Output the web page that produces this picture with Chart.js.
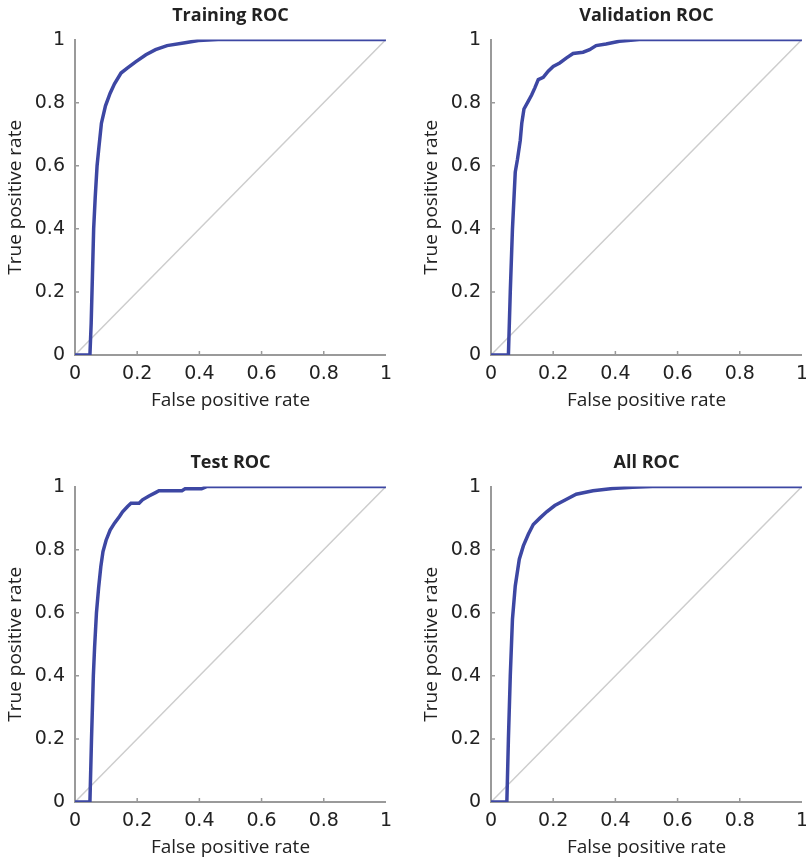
<!DOCTYPE html>
<html>
<head>
<meta charset="utf-8">
<script src="https://cdn.jsdelivr.net/npm/chart.js@4/dist/chart.umd.min.js"></script>
<style>
  html, body { margin: 0; padding: 0; background: #ffffff; overflow: hidden; }
  body { width: 806px; height: 864px; position: relative; }
  .panel { position: absolute; width: 400px; height: 416px; }
</style>
</head>
<body>
<div class="panel" style="left:0;top:0"><canvas id="trainChart" width="400" height="416"></canvas></div>
<div class="panel" style="left:416px;top:0"><canvas id="valChart" width="400" height="416"></canvas></div>
<div class="panel" style="left:0;top:447px"><canvas id="testChart" width="400" height="416"></canvas></div>
<div class="panel" style="left:416px;top:447px"><canvas id="allChart" width="400" height="416"></canvas></div>
<script>
// datos
const tickValues = [0, 0.2, 0.4, 0.6, 0.8, 1];
const tickLabels = ['0', '0.2', '0.4', '0.6', '0.8', '1'];
const diagFpr = [0, 1];
const diagTpr = [0, 1];

const trainFpr = [0, 0.048, 0.052, 0.056, 0.060, 0.065, 0.071, 0.077, 0.085, 0.098, 0.113, 0.127, 0.148, 0.169, 0.196, 0.228, 0.259, 0.296, 0.354, 0.397, 0.46, 1];
const trainTpr = [0, 0, 0.1, 0.25, 0.4, 0.5, 0.6, 0.66, 0.735, 0.79, 0.83, 0.86, 0.894, 0.91, 0.93, 0.952, 0.968, 0.981, 0.99, 0.997, 1, 1];

const valFpr = [0, 0.056, 0.062, 0.069, 0.078, 0.085, 0.094, 0.099, 0.106, 0.12, 0.131, 0.141, 0.152, 0.168, 0.184, 0.2, 0.221, 0.243, 0.264, 0.296, 0.317, 0.338, 0.37, 0.413, 0.477, 1];
const valTpr = [0, 0, 0.2, 0.4, 0.58, 0.62, 0.68, 0.735, 0.78, 0.805, 0.825, 0.847, 0.873, 0.88, 0.9, 0.915, 0.926, 0.942, 0.956, 0.96, 0.968, 0.981, 0.986, 0.995, 1, 1];

const testFpr = [0, 0.048, 0.053, 0.059, 0.063, 0.069, 0.076, 0.083, 0.09, 0.1, 0.113, 0.127, 0.143, 0.153, 0.169, 0.18, 0.206, 0.217, 0.238, 0.259, 0.27, 0.344, 0.354, 0.407, 0.423, 1];
const testTpr = [0, 0, 0.196, 0.4, 0.49, 0.6, 0.68, 0.746, 0.794, 0.83, 0.862, 0.884, 0.905, 0.92, 0.937, 0.947, 0.947, 0.958, 0.97, 0.981, 0.987, 0.987, 0.993, 0.993, 1, 1];

const allFpr = [0, 0.051, 0.056, 0.062, 0.069, 0.078, 0.091, 0.104, 0.12, 0.136, 0.157, 0.179, 0.205, 0.243, 0.274, 0.328, 0.391, 0.455, 0.519, 1];
const allTpr = [0, 0, 0.2, 0.4, 0.58, 0.685, 0.77, 0.812, 0.849, 0.88, 0.9, 0.92, 0.94, 0.96, 0.976, 0.987, 0.994, 0.998, 1, 1];

const FONT = "'Open Sans', sans-serif";
const TICK_FONT = "'DejaVu Sans', sans-serif";
const AXIS_GRAY = '#9a9a9a';

function toPoints(xs, ys) {
    return xs.map(function (x, i) { return { x: x, y: ys[i] }; });
}

// marcas de eje hacia dentro, como en el original
const innerTicks = {
    id: 'innerTicks',
    afterDraw: function (chart) {
        const ctx = chart.ctx;
        const xs = chart.scales.x;
        const ys = chart.scales.y;
        const area = chart.chartArea;
        ctx.save();
        ctx.strokeStyle = AXIS_GRAY;
        ctx.lineWidth = 1.5;
        tickValues.forEach(function (v) {
            if (v === 0 || v === 1) return;
            const px = xs.getPixelForValue(v);
            const py = ys.getPixelForValue(v);
            ctx.beginPath();
            ctx.moveTo(px, area.bottom);
            ctx.lineTo(px, area.bottom - 4);
            ctx.moveTo(area.left, py);
            ctx.lineTo(area.left + 4, py);
            ctx.stroke();
        });
        ctx.restore();
    }
};

function axisOptions(titleText, isX) {
    return {
        type: 'linear',
        min: 0,
        max: 1,
        position: isX ? 'bottom' : 'left',
        grid: { display: false, drawTicks: false },
        border: { display: true, color: AXIS_GRAY, width: 2 },
        afterBuildTicks: function (scale) {
            scale.ticks = tickValues.map(function (v) { return { value: v }; });
        },
        afterFit: function (scale) {
            if (isX) scale.height = 61; else scale.width = 75;
        },
        ticks: {
            color: '#222',
            padding: isX ? 8 : 10,
            font: { family: TICK_FONT, size: 19 },
            callback: function (value) {
                const i = tickValues.indexOf(value);
                return i >= 0 ? tickLabels[i] : '';
            }
        },
        title: {
            display: true,
            text: titleText,
            color: '#222',
            font: { family: FONT, size: 19 },
            padding: 4
        }
    };
}

function makeRoc(canvasId, titleText, fpr, tpr) {
    const canvas = document.getElementById(canvasId);
    if (!canvas) return;
    new Chart(canvas, {
        type: 'scatter',
        data: {
            datasets: [
                {
                    label: 'ROC',
                    data: toPoints(fpr, tpr),
                    showLine: true,
                    borderColor: '#3d47a3',
                    borderWidth: 3.5,
                    pointRadius: 0,
                    tension: 0,
                    order: 1
                },
                {
                    label: 'Diagonal',
                    data: toPoints(diagFpr, diagTpr),
                    showLine: true,
                    borderColor: '#cdcdcd',
                    borderWidth: 1.5,
                    pointRadius: 0,
                    order: 2
                }
            ]
        },
        options: {
            responsive: false,
            animation: false,
            layout: { padding: { left: 0, right: 10, top: 0, bottom: 0 } },
            plugins: {
                legend: { display: false },
                tooltip: { enabled: false },
                title: {
                    display: true,
                    fullSize: false,
                    text: titleText,
                    color: '#222',
                    font: { family: FONT, size: 18, weight: 'bold' },
                    padding: { top: 5, bottom: 13 }
                }
            },
            scales: {
                x: axisOptions('False positive rate', true),
                y: axisOptions('True positive rate', false)
            }
        },
        plugins: [innerTicks]
    });
}

makeRoc('trainChart', 'Training ROC', trainFpr, trainTpr);
makeRoc('valChart', 'Validation ROC', valFpr, valTpr);
makeRoc('testChart', 'Test ROC', testFpr, testTpr);
makeRoc('allChart', 'All ROC', allFpr, allTpr);
</script>
</body>
</html>
